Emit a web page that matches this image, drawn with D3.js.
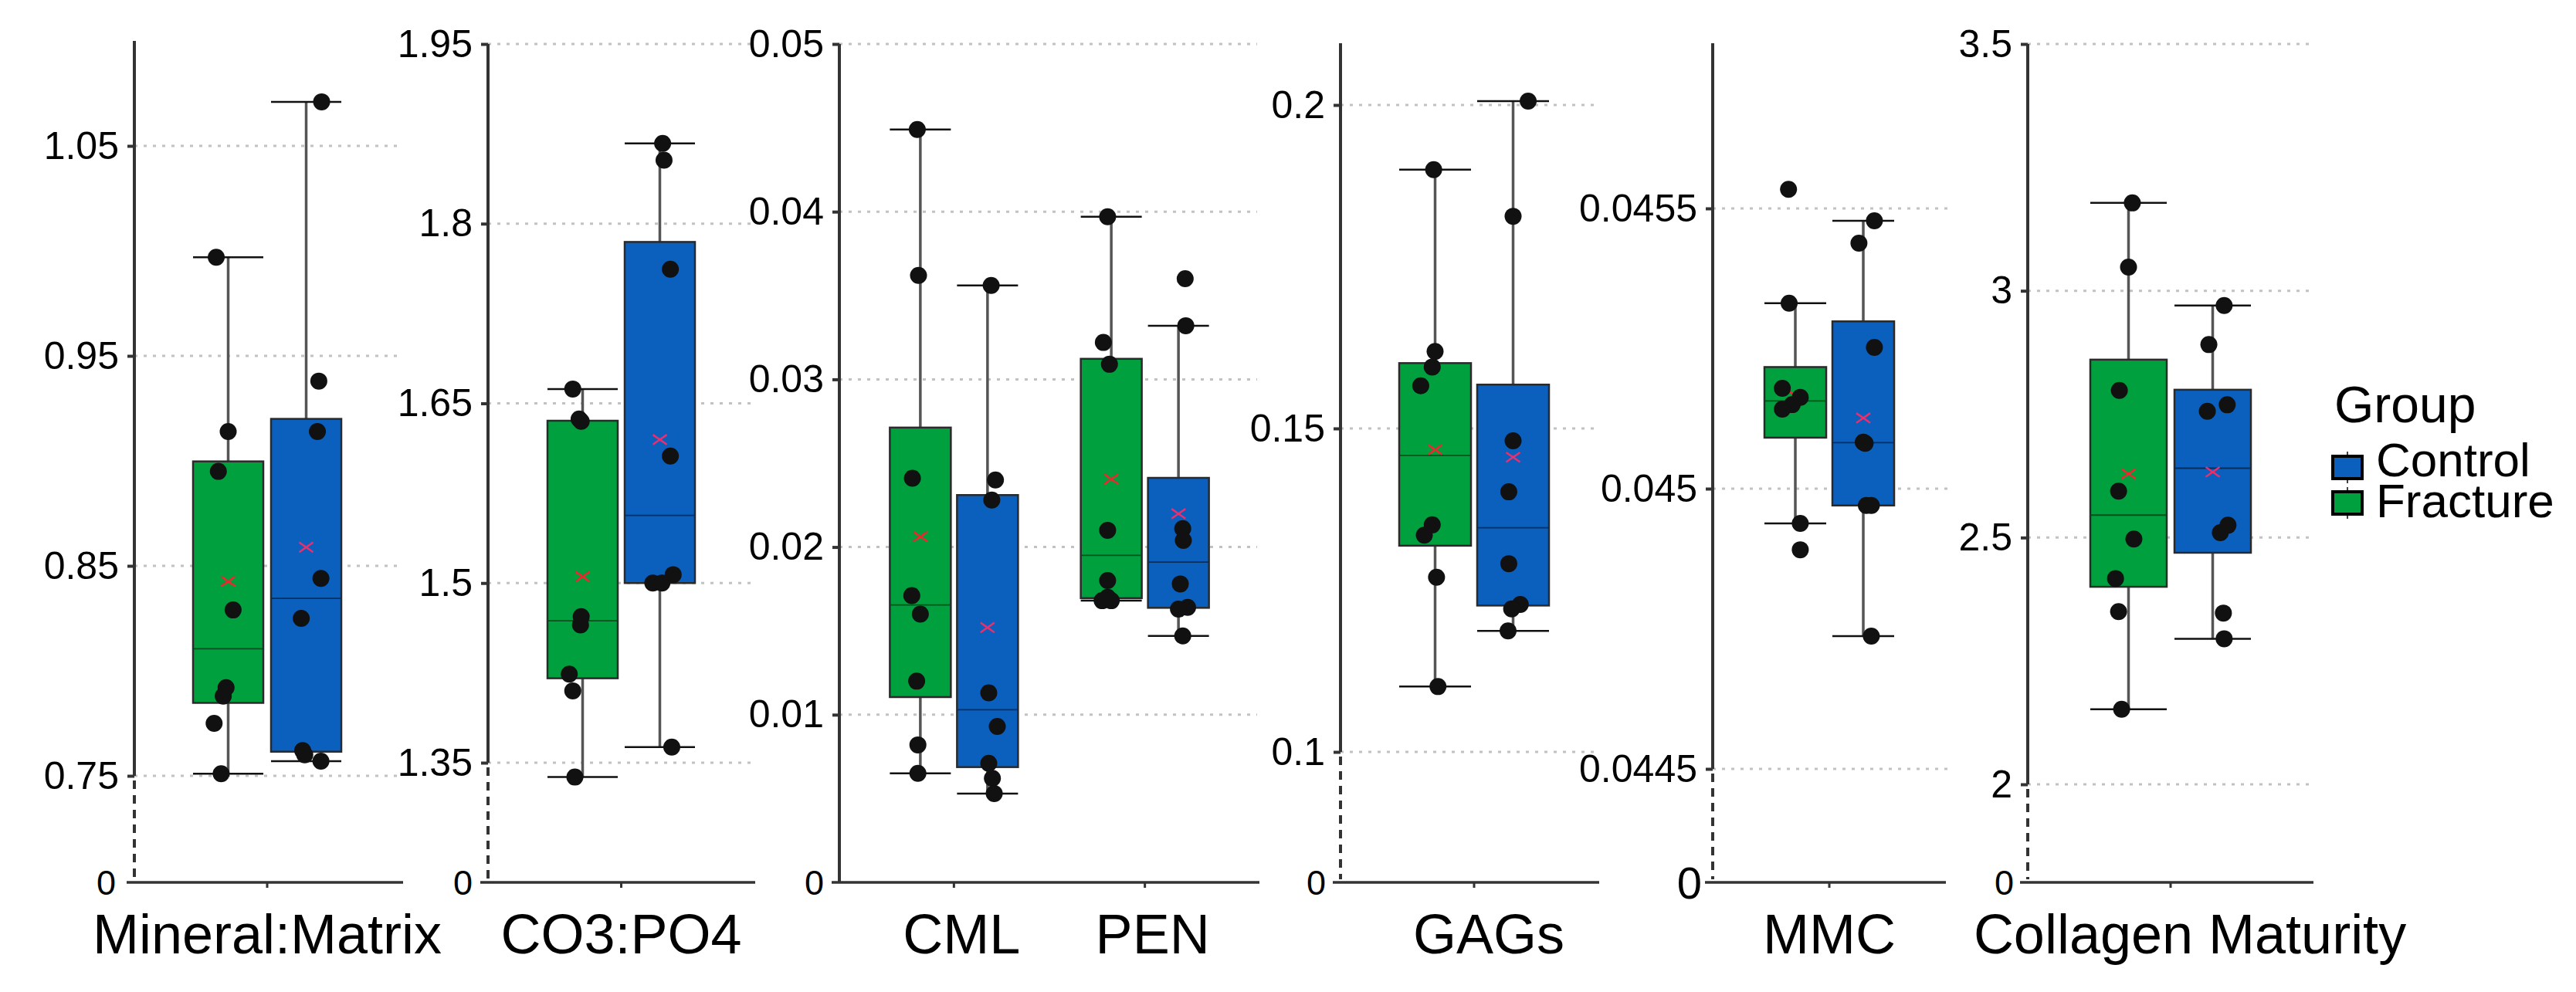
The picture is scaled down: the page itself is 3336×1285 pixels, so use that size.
<!DOCTYPE html>
<html>
<head>
<meta charset="utf-8">
<script src="https://cdn.jsdelivr.net/npm/d3@7"></script>
<style>
  body { margin: 0; background: #fff; }
  text { font-family: "Liberation Sans", Arial, sans-serif; }
</style>
</head>
<body>
<svg id="chart" width="3336" height="1285"></svg>
<script>
// groups, left box first
var groups = ["Fracture", "Control"];
var legendGroups = ["Control", "Fracture"];

// measured values, one array per group and measure
var mineralMatrixFracture = [0.997, 0.914, 0.895, 0.829, 0.792, 0.788, 0.775, 0.751];
var mineralMatrixControl  = [1.071, 0.938, 0.914, 0.844, 0.825, 0.762, 0.760, 0.757];
var co3po4Fracture = [1.662, 1.637, 1.635, 1.472, 1.465, 1.424, 1.410, 1.338];
var co3po4Control  = [1.867, 1.853, 1.762, 1.606, 1.507, 1.500, 1.500, 1.363];
var cmlFracture = [0.0449, 0.0362, 0.0241, 0.0171, 0.0160, 0.0120, 0.0082, 0.0065];
var cmlControl  = [0.0356, 0.0240, 0.0228, 0.0113, 0.0093, 0.0071, 0.0062, 0.0053];
var penFracture = [0.0397, 0.0322, 0.0309, 0.0210, 0.0180, 0.0170, 0.0168, 0.0168];
var penControl  = [0.0360, 0.0332, 0.0211, 0.0204, 0.0178, 0.0164, 0.0163, 0.0147];
var gagsFracture = [0.1900, 0.1619, 0.1595, 0.1566, 0.1351, 0.1335, 0.1270, 0.1101];
var gagsControl  = [0.2006, 0.1828, 0.1481, 0.1402, 0.1291, 0.1228, 0.1221, 0.1187];
var mmcFracture = [0.045534, 0.045331, 0.045179, 0.045163, 0.045150, 0.045142, 0.044938, 0.044891];
var mmcControl  = [0.045478, 0.045438, 0.045252, 0.045083, 0.045081, 0.044970, 0.044970, 0.044737];
var collagenFracture = [3.178, 3.048, 2.798, 2.594, 2.497, 2.417, 2.350, 2.152];
var collagenControl  = [2.970, 2.891, 2.769, 2.756, 2.525, 2.510, 2.347, 2.295];

// y tick labels per panel
var mineralMatrixTicks = [0.75, 0.85, 0.95, 1.05];
var co3po4Ticks = [1.35, 1.5, 1.65, 1.8, 1.95];
var crosslinkTicks = [0.01, 0.02, 0.03, 0.04, 0.05];
var gagsTicks = [0.1, 0.15, 0.2];
var mmcTicks = [0.0445, 0.045, 0.0455];
var collagenTicks = [2, 2.5, 3, 3.5];

var seriesData = {
  "Mineral:Matrix": { Fracture: mineralMatrixFracture, Control: mineralMatrixControl },
  "CO3:PO4": { Fracture: co3po4Fracture, Control: co3po4Control },
  "CML": { Fracture: cmlFracture, Control: cmlControl },
  "PEN": { Fracture: penFracture, Control: penControl },
  "GAGs": { Fracture: gagsFracture, Control: gagsControl },
  "MMC": { Fracture: mmcFracture, Control: mmcControl },
  "Collagen Maturity": { Fracture: collagenFracture, Control: collagenControl }
};

// horizontal jitter of the dots, as a share of box width
var jitter = {
  "Mineral:Matrix": { Fracture: [-0.17, 0, -0.14, 0.07, -0.03, -0.07, -0.2, -0.1], Control: [0.22, 0.18, 0.16, 0.21, -0.07, -0.05, -0.02, 0.21] },
  "CO3:PO4": { Fracture: [-0.14, -0.05, -0.02, -0.02, -0.03, -0.19, -0.14, -0.11], Control: [0.04, 0.06, 0.15, 0.15, 0.19, -0.1, 0.03, 0.17] },
  "CML": { Fracture: [-0.05, -0.03, -0.13, -0.14, 0, -0.06, -0.04, -0.04], Control: [0.06, 0.13, 0.07, 0.02, 0.16, 0.02, 0.08, 0.11] },
  "PEN": { Fracture: [-0.06, -0.13, -0.03, -0.06, -0.06, -0.06, -0.15, 0], Control: [0.11, 0.12, 0.07, 0.08, 0.03, 0.15, 0, 0.07] },
  "GAGs": { Fracture: [-0.02, 0, -0.04, -0.2, -0.04, -0.15, 0.02, 0.04], Control: [0.21, 0, 0, -0.06, -0.06, 0.1, -0.02, -0.07] },
  "MMC": { Fracture: [-0.11, -0.1, -0.21, 0.08, -0.05, -0.21, 0.08, 0.08], Control: [0.18, -0.07, 0.18, 0, 0.03, 0.05, 0.13, 0.13] },
  "Collagen Maturity": { Fracture: [0.05, 0, -0.12, -0.13, 0.07, -0.17, -0.13, -0.09], Control: [0.15, -0.05, 0.19, -0.07, 0.2, 0.1, 0.14, 0.15] }
};

var color = { Fracture: "#00a03e", Control: "#0b5fbd" };
var meanColor = { Fracture: "#f0262e", Control: "#e8306e" };
var baseY = 1143;

var panels = [
  { cats: ["Mineral:Matrix"], ticks: mineralMatrixTicks, lo: 0.75, hi: 1.05, yLo: 1005, yHi: 189, yTop: 53,
    axisX: 174, xEnd: 518, lineEnd: 522, gridEnd: 516, boxW: 91, gap: 10, broken: true, zeroSize: 45, zeroGap: 24, labelDx: 0 },
  { cats: ["CO3:PO4"], ticks: co3po4Ticks, lo: 1.35, hi: 1.95, yLo: 988, yHi: 57, yTop: 57,
    axisX: 632, xEnd: 977, lineEnd: 978, gridEnd: 972, boxW: 91, gap: 9, broken: true, zeroSize: 45, zeroGap: 20, labelDx: 0 },
  { cats: ["CML", "PEN"], ticks: crosslinkTicks, lo: 0, hi: 0.05, yLo: baseY, yHi: 57, yTop: 57,
    axisX: 1087, xEnd: 1631, lineEnd: 1631, gridEnd: 1628, boxW: 79, gap: 8, broken: false, zeroSize: 45, zeroGap: 20, labelDx: 10 },
  { cats: ["GAGs"], ticks: gagsTicks, lo: 0.1, hi: 0.2, yLo: 974, yHi: 136, yTop: 56,
    axisX: 1736, xEnd: 2082, lineEnd: 2071, gridEnd: 2067, boxW: 93, gap: 8, broken: true, zeroSize: 45, zeroGap: 19, labelDx: 19 },
  { cats: ["MMC"], ticks: mmcTicks, lo: 0.0445, hi: 0.0455, yLo: 996, yHi: 270, yTop: 56,
    axisX: 2218, xEnd: 2520, lineEnd: 2520, gridEnd: 2527, boxW: 80, gap: 8, broken: true, zeroSize: 58, zeroGap: 14, labelDx: 0 },
  { cats: ["Collagen Maturity"], ticks: collagenTicks, lo: 2, hi: 3.5, yLo: 1016, yHi: 57, yTop: 57,
    axisX: 2626, xEnd: 2996, lineEnd: 2996, gridEnd: 2992, boxW: 99, gap: 10, broken: true, zeroSize: 45, zeroGap: 18, labelDx: 25 }
];

var svg = d3.select("#chart");

function boxStats(values) {
  var v = values.slice().sort(d3.ascending);
  var q1 = d3.quantile(v, 0.25), med = d3.quantile(v, 0.5), q3 = d3.quantile(v, 0.75);
  var iqr = q3 - q1;
  var inside = v.filter(function (d) { return d >= q1 - 1.5 * iqr && d <= q3 + 1.5 * iqr; });
  return { q1: q1, med: med, q3: q3, lo: d3.min(inside), hi: d3.max(inside), mean: d3.mean(v) };
}

panels.forEach(function (p) {
  var g = svg.append("g");
  var y = d3.scaleLinear().domain([p.lo, p.hi]).range([p.yLo, p.yHi]);
  var x = d3.scalePoint().domain(p.cats).range([p.axisX, p.xEnd]).padding(0.6);
  var inner = d3.scaleBand().domain(groups)
      .range([-(p.boxW + p.gap / 2), p.boxW + p.gap / 2])
      .paddingInner(p.gap / (p.boxW + p.gap));

  // dotted gridlines
  g.selectAll("line.grid").data(p.ticks).enter().append("line")
      .attr("class", "grid")
      .attr("x1", p.axisX).attr("x2", p.gridEnd)
      .attr("y1", function (d) { return y(d); }).attr("y2", function (d) { return y(d); })
      .attr("stroke", "#c2c2c2").attr("stroke-width", 3).attr("stroke-dasharray", "4,8");

  // y axis
  var axis = d3.axisLeft(y).tickValues(p.ticks).tickSize(9).tickPadding(11)
      .tickFormat(function (d) { return String(d); });
  var ag = g.append("g").attr("transform", "translate(" + p.axisX + ",0)").call(axis);
  ag.select(".domain").remove();
  ag.attr("font-size", 50).attr("font-family", null);
  ag.selectAll(".tick line").attr("stroke", "#333").attr("stroke-width", 4);
  ag.selectAll(".tick text").attr("fill", "#000");

  g.append("line")
      .attr("x1", p.axisX).attr("x2", p.axisX)
      .attr("y1", p.yTop).attr("y2", p.broken ? y(p.lo) : baseY)
      .attr("stroke", "#333").attr("stroke-width", 4);
  if (p.broken) {
    g.append("line")
        .attr("x1", p.axisX).attr("x2", p.axisX)
        .attr("y1", y(p.lo) + 6).attr("y2", baseY - 4)
        .attr("stroke", "#333").attr("stroke-width", 4).attr("stroke-dasharray", "11,8");
  }
  g.append("text")
      .attr("x", p.axisX - p.zeroGap).attr("y", baseY).attr("dy", "0.36em")
      .attr("text-anchor", "end").attr("font-size", p.zeroSize).text("0");

  // x baseline
  g.append("line")
      .attr("x1", p.axisX - 10).attr("x2", p.lineEnd)
      .attr("y1", baseY).attr("y2", baseY)
      .attr("stroke", "#333").attr("stroke-width", 3.5);
  g.selectAll("line.xtick").data(p.cats).enter().append("line")
      .attr("class", "xtick")
      .attr("x1", function (d) { return x(d); }).attr("x2", function (d) { return x(d); })
      .attr("y1", baseY).attr("y2", baseY + 7)
      .attr("stroke", "#333").attr("stroke-width", 3);
  g.selectAll("text.xlab").data(p.cats).enter().append("text")
      .attr("class", "xlab")
      .attr("x", function (d) { return x(d) + p.labelDx; }).attr("y", 1235)
      .attr("text-anchor", "middle").attr("font-size", 72).attr("fill", "#000")
      .text(function (d) { return d; });

  // boxes
  p.cats.forEach(function (cat) {
    groups.forEach(function (grp) {
      var vals = seriesData[cat][grp];
      var s = boxStats(vals);
      var x0 = x(cat) + inner(grp), w = inner.bandwidth(), cx = x0 + w / 2;
      var bg = g.append("g");

      bg.append("line")
          .attr("x1", cx).attr("x2", cx).attr("y1", y(s.hi)).attr("y2", y(s.lo))
          .attr("stroke", "#555").attr("stroke-width", 3.5);
      [s.hi, s.lo].forEach(function (v) {
        bg.append("line")
            .attr("x1", x0).attr("x2", x0 + w).attr("y1", y(v)).attr("y2", y(v))
            .attr("stroke", "#111").attr("stroke-width", 2.5);
      });
      bg.append("rect")
          .attr("x", x0).attr("y", y(s.q3)).attr("width", w).attr("height", y(s.q1) - y(s.q3))
          .attr("fill", color[grp]).attr("stroke", "#2a2a2a").attr("stroke-width", 2.5);
      bg.append("line")
          .attr("x1", x0).attr("x2", x0 + w).attr("y1", y(s.med)).attr("y2", y(s.med))
          .attr("stroke", d3.color(color[grp]).darker(2)).attr("stroke-width", 1.8);

      var my = y(s.mean), m = 9;
      bg.append("path")
          .attr("d", "M" + (cx - m) + "," + (my - m * 0.7) + "L" + (cx + m) + "," + (my + m * 0.7) +
                     "M" + (cx - m) + "," + (my + m * 0.7) + "L" + (cx + m) + "," + (my - m * 0.7))
          .attr("stroke", meanColor[grp]).attr("stroke-width", 2.5).attr("fill", "none");

      bg.selectAll("circle").data(vals).enter().append("circle")
          .attr("cx", function (d, i) { return cx + jitter[cat][grp][i] * w; })
          .attr("cy", function (d) { return y(d); })
          .attr("r", 11)
          .attr("fill", "#111");
    });
  });
});

// legend
var lg = svg.append("g");
lg.append("text").attr("x", 3023).attr("y", 547).attr("font-size", 66).attr("fill", "#000").text("Group");
legendGroups.forEach(function (grp, i) {
  var ky = 591 + i * 46;
  lg.append("line")
      .attr("x1", 3040).attr("x2", 3040).attr("y1", ky - 6).attr("y2", ky + 35)
      .attr("stroke", "#444").attr("stroke-width", 2);
  lg.append("rect")
      .attr("x", 3021).attr("y", ky).attr("width", 38).attr("height", 29)
      .attr("fill", color[grp]).attr("stroke", "#000").attr("stroke-width", 4);
  lg.append("text")
      .attr("x", 3077).attr("y", 617 + i * 53).attr("font-size", 62).attr("fill", "#000").text(grp);
});
</script>
</body>
</html>
